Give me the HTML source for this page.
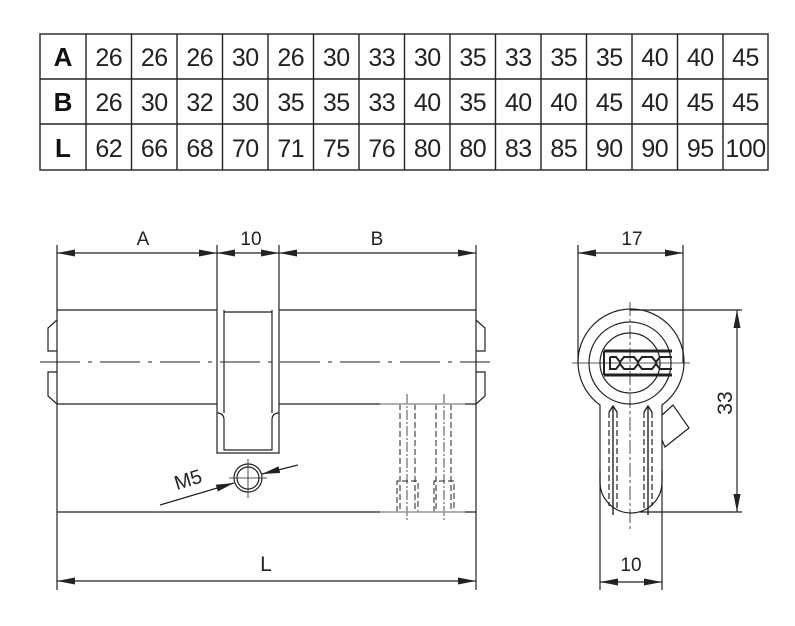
<!DOCTYPE html>
<html><head><meta charset="utf-8"><style>
html,body{margin:0;padding:0;background:#fff;}
svg{display:block;font-family:"Liberation Sans",Arial,sans-serif;}
</style></head><body>
<svg width="795" height="626" viewBox="0 0 795 626" xmlns="http://www.w3.org/2000/svg">
<defs>
<marker id="ar" markerWidth="18" markerHeight="8" refX="18" refY="4" orient="auto" markerUnits="userSpaceOnUse"><path d="M0,0.5 L18,4 L0,7.5 Z" fill="#222"/></marker>
<marker id="al" markerWidth="18" markerHeight="8" refX="0" refY="4" orient="auto" markerUnits="userSpaceOnUse"><path d="M18,0.5 L0,4 L18,7.5 Z" fill="#222"/></marker>
</defs>
<!-- table -->
<g stroke="#222" stroke-width="1.4" fill="none">
<rect x="40" y="34" width="728" height="136"/>
<line x1="40" y1="79" x2="768" y2="79"/><line x1="40" y1="124" x2="768" y2="124"/>
<line x1="86" y1="34" x2="86" y2="170"/>
<line x1="131.5" y1="34" x2="131.5" y2="170"/><line x1="177" y1="34" x2="177" y2="170"/><line x1="222.5" y1="34" x2="222.5" y2="170"/><line x1="268" y1="34" x2="268" y2="170"/><line x1="313.5" y1="34" x2="313.5" y2="170"/><line x1="359" y1="34" x2="359" y2="170"/><line x1="404.5" y1="34" x2="404.5" y2="170"/><line x1="450" y1="34" x2="450" y2="170"/><line x1="495.5" y1="34" x2="495.5" y2="170"/><line x1="541" y1="34" x2="541" y2="170"/><line x1="586.5" y1="34" x2="586.5" y2="170"/><line x1="632" y1="34" x2="632" y2="170"/><line x1="677.5" y1="34" x2="677.5" y2="170"/><line x1="723" y1="34" x2="723" y2="170"/>
</g>
<g font-size="26" font-weight="bold" text-anchor="middle" fill="#111">
<text x="63" y="66">A</text><text x="63" y="111">B</text><text x="63" y="157">L</text>
</g>
<g font-size="25" text-anchor="middle" fill="#222" letter-spacing="-0.5">
<text y="66"><tspan x="108.75">26</tspan><tspan x="154.25">26</tspan><tspan x="199.75">26</tspan><tspan x="245.25">30</tspan><tspan x="290.75">26</tspan><tspan x="336.25">30</tspan><tspan x="381.75">33</tspan><tspan x="427.25">30</tspan><tspan x="472.75">35</tspan><tspan x="518.25">33</tspan><tspan x="563.75">35</tspan><tspan x="609.25">35</tspan><tspan x="654.75">40</tspan><tspan x="700.25">40</tspan><tspan x="745.5">45</tspan></text>
<text y="111"><tspan x="108.75">26</tspan><tspan x="154.25">30</tspan><tspan x="199.75">32</tspan><tspan x="245.25">30</tspan><tspan x="290.75">35</tspan><tspan x="336.25">35</tspan><tspan x="381.75">33</tspan><tspan x="427.25">40</tspan><tspan x="472.75">35</tspan><tspan x="518.25">40</tspan><tspan x="563.75">40</tspan><tspan x="609.25">45</tspan><tspan x="654.75">40</tspan><tspan x="700.25">45</tspan><tspan x="745.5">45</tspan></text>
<text y="157"><tspan x="108.75">62</tspan><tspan x="154.25">66</tspan><tspan x="199.75">68</tspan><tspan x="245.25">70</tspan><tspan x="290.75">71</tspan><tspan x="336.25">75</tspan><tspan x="381.75">76</tspan><tspan x="427.25">80</tspan><tspan x="472.75">80</tspan><tspan x="518.25">83</tspan><tspan x="563.75">85</tspan><tspan x="609.25">90</tspan><tspan x="654.75">90</tspan><tspan x="700.25">95</tspan><tspan x="745.5">100</tspan></text>
</g>

<!-- side view -->
<g stroke="#222" stroke-width="1.2" fill="none">
<line x1="57" y1="245" x2="57" y2="590"/>
<line x1="476" y1="245" x2="476" y2="590"/>
<line x1="217" y1="245" x2="217" y2="310"/>
<line x1="279" y1="245" x2="279" y2="310"/>
<line x1="57" y1="253" x2="217" y2="253" marker-start="url(#al)" marker-end="url(#ar)"/>
<line x1="217" y1="253" x2="279" y2="253" marker-start="url(#al)" marker-end="url(#ar)"/>
<line x1="279" y1="253" x2="476" y2="253" marker-start="url(#al)" marker-end="url(#ar)"/>
<line x1="57" y1="581" x2="476" y2="581" marker-start="url(#al)" marker-end="url(#ar)"/>
<line x1="57" y1="310" x2="217" y2="310"/><line x1="279" y1="310" x2="476" y2="310"/>
<line x1="57" y1="404" x2="217" y2="404"/><line x1="279" y1="404" x2="476" y2="404"/>
<line x1="57" y1="512" x2="476" y2="512"/>
<path d="M217,310 V453 H279 V310"/>
<path d="M224,310 V413 M272,310 V413"/>
<path d="M217,413 Q224,413 224,420 V450 H272 V420 Q272,413 279,413"/>
<path d="M224,312 H272"/>
<path d="M57,320 L48,328 V351 H57 M57,372 H48 V396 L57,404"/>
<path d="M476,320 L485,328 V351 H476 M476,372 H485 V396 L476,404"/>
<circle cx="248" cy="478" r="14"/><circle cx="248" cy="478" r="11"/>
<line x1="160" y1="505" x2="234" y2="483" marker-end="url(#ar)"/>
<line x1="298" y1="465" x2="262" y2="474" marker-end="url(#ar)"/>
<line x1="248" y1="459" x2="248" y2="498" stroke-width="0.8"/>
<line x1="229" y1="478" x2="267" y2="478" stroke-width="0.8"/>
<g stroke-dasharray="6,3" stroke-width="1">
<line x1="400" y1="404" x2="400" y2="512"/><line x1="415" y1="404" x2="415" y2="512"/>
<line x1="436" y1="404" x2="436" y2="512"/><line x1="451" y1="404" x2="451" y2="512"/>
<path d="M397,512 V481 H418 V512 M434,512 V481 H454 V512"/>
</g>
<g stroke-dasharray="10,2,2,2" stroke-width="0.8">
<line x1="407" y1="394" x2="407" y2="520"/><line x1="444" y1="394" x2="444" y2="522"/>
</g>
<line x1="380" y1="404" x2="465" y2="404" stroke="#aaa" stroke-width="1.5"/>
<line x1="380" y1="512" x2="465" y2="512" stroke="#aaa" stroke-width="1.5"/>
<line x1="40" y1="362" x2="490" y2="362" stroke-width="0.9" stroke-dasharray="40,8,4,8"/>
</g>
<g font-size="19" fill="#222" text-anchor="middle">
<text x="143" y="245">A</text><text x="251" y="245">10</text><text x="377" y="245">B</text>
<text x="266" y="571" font-size="21">L</text>
<text x="190" y="486" font-size="20" transform="rotate(-17 190 486)">M5</text>
</g>

<!-- end view -->
<g stroke="#222" stroke-width="1.2" fill="none">
<line x1="578" y1="245" x2="578" y2="363"/><line x1="683" y1="245" x2="683" y2="363"/>
<line x1="578" y1="253" x2="683" y2="253" marker-start="url(#al)" marker-end="url(#ar)"/>
<line x1="630" y1="310" x2="742" y2="310"/><line x1="640" y1="512" x2="742" y2="512"/>
<line x1="737" y1="310" x2="737" y2="512" marker-start="url(#al)" marker-end="url(#ar)"/>
<line x1="600" y1="470" x2="600" y2="590"/><line x1="662" y1="470" x2="662" y2="590"/>
<line x1="600" y1="582" x2="662" y2="582" marker-start="url(#al)" marker-end="url(#ar)"/>
<path d="M600,405 A53,53 0 1 1 662,405 V482 A31,31 0 0 1 600,482 Z"/>
<circle cx="630" cy="363" r="41"/>
<circle cx="630" cy="363" r="30"/>
<path d="M662,415 L673,405 L689,428 L665,447 L662,440"/>
<path d="M604,351 H672 M604,375 H672" stroke-width="3"/>
<path d="M604,351 V375" stroke-width="2"/>
<path d="M610,357 H616 L620,362 L624,357 H634 L638,362 L642,357 H652 L656,362 L660,357 H672" stroke-width="2"/>
<path d="M610,357 V369 H616 L620,364 L624,369 H634 L638,364 L642,369 H652 L656,364 L660,369 H672" stroke-width="2"/>
<g stroke-width="1.4">
<path d="M609,412 L613,406 L617,412"/><path d="M644,412 L648,406 L652,412"/>
<line x1="613" y1="406" x2="613" y2="515"/><line x1="648" y1="406" x2="648" y2="515"/>
</g>
<g stroke-dasharray="6,3" stroke-width="1.2">
<line x1="609" y1="412" x2="609" y2="506"/><line x1="617" y1="412" x2="617" y2="508"/>
<line x1="644" y1="412" x2="644" y2="508"/><line x1="652" y1="412" x2="652" y2="506"/>
</g>
<line x1="630" y1="302" x2="630" y2="532" stroke-width="0.8" stroke-dasharray="14,3,3,3"/>
<line x1="572" y1="363" x2="690" y2="363" stroke-width="0.8"/>
</g>
<g font-size="19" fill="#222" text-anchor="middle">
<text x="632" y="245">17</text><text x="631" y="571">10</text>
<text x="732" y="403" font-size="21" transform="rotate(-90 732 403)">33</text>
</g>
</svg>
</body></html>
